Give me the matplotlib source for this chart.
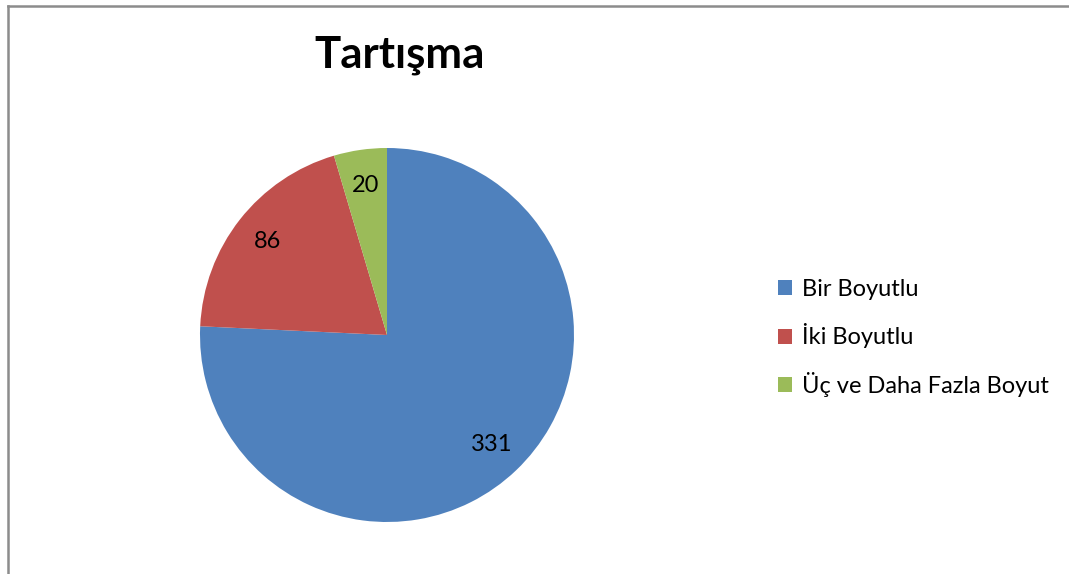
import matplotlib
matplotlib.use("Agg")
import matplotlib.pyplot as plt
from matplotlib.patches import Patch
from matplotlib.lines import Line2D
import numpy as np

categories = ["Bir Boyutlu", "İki Boyutlu", "Üç ve Daha Fazla Boyut"]
values = [331, 86, 20]
colors = ["#4F81BD", "#C0504D", "#9BBB59"]
title = "Tartışma"

plt.rcParams['font.family'] = ['Lato', 'DejaVu Sans']

W, H = 1069, 574
fig = plt.figure(figsize=(W / 100, H / 100), dpi=100)

# frame lines (left and top only)
fig.add_artist(Line2D([7.5 / W, 7.5 / W], [0, 1 - 5.5 / H], color="#8c8c8c", lw=1.8,
                      transform=fig.transFigure))
fig.add_artist(Line2D([7.5 / W, 1], [1 - 5.5 / H, 1 - 5.5 / H], color="#8c8c8c", lw=1.8,
                      transform=fig.transFigure))

cx, cy, r = 387, 335, 187
ax = fig.add_axes([(cx - r) / W, (H - cy - r) / H, 2 * r / W, 2 * r / H])
wedges, texts = ax.pie(values, colors=colors, startangle=90, counterclock=False,
                       radius=1, wedgeprops=dict(linewidth=0))
for w, v in zip(wedges, values):
    ang = np.deg2rad((w.theta1 + w.theta2) / 2)
    ax.text(0.81 * np.cos(ang), 0.81 * np.sin(ang), str(v), ha="center", va="center",
            fontsize=17, color="black")
ax.set_xlim(-1, 1)
ax.set_ylim(-1, 1)
ax.set_aspect("equal")
ax.axis("off")

fig.text(400 / W, 1 - 55 / H, title, ha="center", va="center", fontsize=31.5, fontweight="bold")

handles = [Patch(facecolor=c, edgecolor="none") for c in colors]
fig.legend(handles, categories, loc="center left", bbox_to_anchor=(778 / W, 1 - 338 / H),
           frameon=False, fontsize=17, handlelength=0.6, handleheight=0.6,
           handletextpad=0.4, labelspacing=1.0, borderpad=0, borderaxespad=0)

fig.savefig("out.png", dpi=100)
